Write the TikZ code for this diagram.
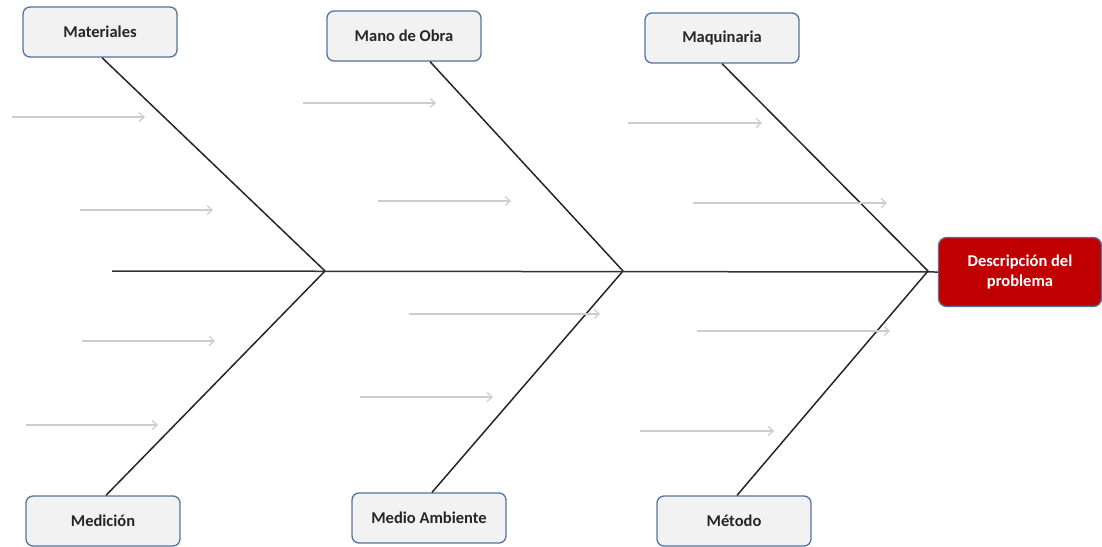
\documentclass[tikz,border=0pt]{standalone}
\usepackage{fontspec}
\setmainfont{Carlito}
\usetikzlibrary{arrows.meta}
\definecolor{boxfill}{RGB}{242,242,242}
\definecolor{boxline}{RGB}{84,116,158}
\definecolor{probred}{RGB}{192,0,0}
\definecolor{arrowgrey}{RGB}{205,205,205}
\tikzset{
  cat/.style={draw=boxline, line width=1.3pt, fill=boxfill, rounded corners=7pt,
    minimum width=154pt, minimum height=50pt, inner sep=0pt,
    font=\fontsize{16.5}{19}\selectfont\bfseries, text=black!85},
  prob/.style={draw=boxline, line width=1.3pt, fill=probred, rounded corners=8pt,
    minimum width=163pt, minimum height=69pt, inner sep=0pt, align=center,
    font=\fontsize{16.5}{20}\selectfont\bfseries, text=white},
  bone/.style={line width=1.5pt, draw=black!85},
  spine/.style={line width=1.5pt, draw=black!80},
  sub/.style={draw=arrowgrey, line width=1.2pt, -{Straight Barb[length=5pt,width=9pt]}}
}
\begin{document}
\begin{tikzpicture}[x=1pt,y=-1pt]
\useasboundingbox (0,0) rectangle (1102,546);
% boxes
\node[cat] (mat) at (100,32) {Materiales};
\node[cat] (mano) at (404,36) {Mano de Obra};
\node[cat] (maq) at (722,38) {Maquinaria};
\node[cat] (med) at (103,521) {Medición};
\node[cat] (amb) at (429,518) {Medio Ambiente};
\node[cat] (met) at (734,521) {Método};
\node[prob] (prob) at (1020,272) {Descripción del\\problema};
% junctions
\coordinate (j1) at (325,271);
\coordinate (j2) at (623,271);
\coordinate (j3) at (928,271);
\coordinate (tail) at (112,271);
% spine
\draw[spine] (tail) -- (prob.west);
% bones
\draw[bone] (mat.south) ++(2,0) -- (j1);
\draw[bone] (med.north) ++(3,0) -- (j1);
\draw[bone] (mano.south) ++(26,0) -- (j2);
\draw[bone] (amb.north) ++(3,0) -- (j2);
\draw[bone] (maq.south) ++(0,0) -- (j3);
\draw[bone] (met.north) ++(3,0) -- (j3);
% sub-cause arrows
\coordinate (a1s) at (12,117);  \coordinate (a1e) at (145,117);
\coordinate (a2s) at (80,210);  \coordinate (a2e) at (213,210);
\coordinate (a3s) at (303,103); \coordinate (a3e) at (436,103);
\coordinate (a4s) at (378,201); \coordinate (a4e) at (511,201);
\coordinate (a5s) at (628,123); \coordinate (a5e) at (762,123);
\coordinate (a6s) at (693,203); \coordinate (a6e) at (887,203);
\coordinate (a7s) at (82,341);  \coordinate (a7e) at (215,341);
\coordinate (a8s) at (26,425);  \coordinate (a8e) at (158,425);
\coordinate (a9s) at (409,314); \coordinate (a9e) at (600,314);
\coordinate (a10s) at (360,397); \coordinate (a10e) at (493,397);
\coordinate (a11s) at (697,331); \coordinate (a11e) at (890,331);
\coordinate (a12s) at (640,431); \coordinate (a12e) at (774,431);
\foreach \i in {1,...,12}{\draw[sub] (a\i s) -- (a\i e);}
\end{tikzpicture}
\end{document}
